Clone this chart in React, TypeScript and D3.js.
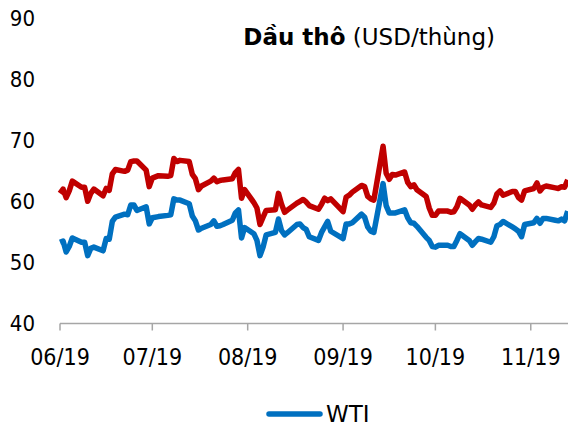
import { useEffect, useRef } from 'react';
import * as d3 from 'd3';

// trading days, June 3 – Nov 15 2019
const tradeDates = [
  '2019-06-03', '2019-06-04', '2019-06-05', '2019-06-06', '2019-06-07', '2019-06-10', '2019-06-11', '2019-06-12',
  '2019-06-13', '2019-06-14', '2019-06-17', '2019-06-18', '2019-06-19', '2019-06-20', '2019-06-21', '2019-06-24',
  '2019-06-25', '2019-06-26', '2019-06-27', '2019-06-28',
  '2019-07-01', '2019-07-02', '2019-07-03', '2019-07-05', '2019-07-08', '2019-07-09', '2019-07-10', '2019-07-11',
  '2019-07-12', '2019-07-15', '2019-07-16', '2019-07-17', '2019-07-18', '2019-07-19', '2019-07-22', '2019-07-23',
  '2019-07-24', '2019-07-25', '2019-07-26', '2019-07-29', '2019-07-30', '2019-07-31',
  '2019-08-01', '2019-08-02', '2019-08-05', '2019-08-06', '2019-08-07', '2019-08-08', '2019-08-09', '2019-08-12',
  '2019-08-13', '2019-08-14', '2019-08-15', '2019-08-16', '2019-08-19', '2019-08-20', '2019-08-21', '2019-08-22',
  '2019-08-23', '2019-08-26', '2019-08-27', '2019-08-28', '2019-08-29', '2019-08-30',
  '2019-09-03', '2019-09-04', '2019-09-05', '2019-09-06', '2019-09-09', '2019-09-10', '2019-09-11', '2019-09-12',
  '2019-09-13', '2019-09-16', '2019-09-17', '2019-09-18', '2019-09-19', '2019-09-20', '2019-09-23', '2019-09-24',
  '2019-09-25', '2019-09-26', '2019-09-27', '2019-09-30',
  '2019-10-01', '2019-10-02', '2019-10-03', '2019-10-04', '2019-10-07', '2019-10-08', '2019-10-09', '2019-10-10',
  '2019-10-11', '2019-10-14', '2019-10-15', '2019-10-16', '2019-10-17', '2019-10-18', '2019-10-21', '2019-10-22',
  '2019-10-23', '2019-10-24', '2019-10-25', '2019-10-28', '2019-10-29', '2019-10-30', '2019-10-31',
  '2019-11-01', '2019-11-04', '2019-11-05', '2019-11-06', '2019-11-07', '2019-11-08', '2019-11-11', '2019-11-12',
  '2019-11-13', '2019-11-14', '2019-11-15',
];

const brentPrices = [
  61.3, 62.0, 60.6, 61.7, 63.3, 62.3, 62.3, 60.0, 61.3, 62.0, 60.9, 62.1, 61.8, 64.5, 65.2, 64.9, 65.1, 66.5, 66.6, 66.6,
  65.1, 62.4, 63.8, 64.2, 64.1, 64.2, 67.0, 66.5, 66.7, 66.5, 64.4, 63.7, 61.9, 62.5, 63.3, 63.8, 63.2, 63.4, 63.5, 63.7, 64.7, 65.2,
  60.5, 61.9, 59.8, 58.9, 56.2, 57.4, 58.5, 58.6, 61.3, 59.5, 58.2, 58.6, 59.7, 60.0, 60.3, 59.9, 59.3, 58.7, 59.5, 60.5, 60.1, 60.4,
  58.3, 60.7, 61.0, 61.5, 62.6, 62.4, 60.8, 60.4, 60.2, 69.0, 64.6, 63.6, 64.4, 64.3, 64.8, 63.1, 62.4, 62.7, 61.9, 60.8,
  58.9, 57.7, 57.7, 58.4, 58.4, 58.2, 58.3, 59.1, 60.5, 59.4, 58.7, 59.4, 59.9, 59.4, 59.0, 59.7, 61.2, 61.7, 61.0, 61.6, 61.6, 60.6, 60.2,
  61.7, 62.1, 63.0, 61.7, 62.3, 62.5, 62.2, 62.1, 62.4, 62.3, 63.5,
];

const wtiPrices = [
  53.3, 53.5, 51.7, 52.6, 54.0, 53.3, 53.3, 51.1, 52.3, 52.5, 51.9, 53.9, 53.8, 56.7, 57.4, 57.9, 57.8, 59.4, 59.4, 58.5,
  59.1, 56.3, 57.3, 57.5, 57.7, 57.8, 60.4, 60.2, 60.2, 59.6, 57.6, 56.8, 55.3, 55.6, 56.2, 56.8, 55.9, 56.0, 56.2, 56.9, 58.1, 58.6,
  54.0, 55.7, 54.7, 53.6, 51.1, 52.5, 54.5, 54.9, 57.1, 55.2, 54.5, 54.9, 56.2, 56.3, 55.7, 55.4, 54.2, 53.6, 54.9, 55.8, 56.7, 55.1,
  53.9, 56.3, 56.3, 56.5, 57.9, 57.4, 55.8, 55.1, 54.9, 62.9, 59.3, 58.1, 58.1, 58.1, 58.6, 57.3, 56.5, 56.4, 55.9, 54.1,
  53.6, 52.6, 52.5, 52.8, 52.8, 52.6, 52.6, 53.6, 54.7, 53.6, 52.8, 53.4, 53.9, 53.8, 53.3, 54.2, 56.0, 56.2, 56.7, 55.8, 55.5, 55.1, 54.2,
  56.2, 56.5, 57.2, 56.4, 57.2, 57.2, 56.9, 56.8, 57.1, 56.8, 58.4,
];

const monthTicks = ['2019-06-01', '2019-07-01', '2019-08-01', '2019-09-01', '2019-10-01', '2019-11-01'];
const yTicks = [40, 50, 60, 70, 80, 90];

const FONT_NARROW = "'DejaVu Sans Condensed', 'DejaVu Sans', sans-serif";
const FONT = "'DejaVu Sans', sans-serif";
const RED = '#c00000';
const BLUE = '#0070c0';

export default function App() {
  const svgRef = useRef<SVGSVGElement>(null);

  useEffect(() => {
    if (!svgRef.current) return;
    const svg = d3.select(svgRef.current);
    svg.selectAll('*').remove();

    const parse = d3.timeParse('%Y-%m-%d');
    const dates = tradeDates.map((d) => parse(d) as Date);

    const x = d3.scaleTime()
      .domain([parse('2019-06-01') as Date, parse('2019-11-30') as Date])
      .range([60, 620]);
    // the series is drawn from the axis origin (first trading day sits on the 06/19 tick)
    const xLine = d3.scaleTime()
      .domain([dates[0], d3.timeDay.offset(dates[0], 182)])
      .range([60, 620]);
    const y = d3.scaleLinear().domain([40, 90]).range([323.5, 18]);

    const g = svg.append('g');

    // y labels, no axis line
    g.selectAll('text.ylab')
      .data(yTicks)
      .enter()
      .append('text')
      .attr('class', 'ylab')
      .attr('x', 35)
      .attr('y', (d) => y(d))
      .attr('dy', '0.36em')
      .attr('text-anchor', 'end')
      .style('font-family', FONT_NARROW)
      .style('font-stretch', 'condensed')
      .attr('font-size', 22)
      .attr('fill', '#000')
      .text((d) => d);

    // x axis
    g.append('line')
      .attr('x1', x.range()[0])
      .attr('x2', x.range()[1])
      .attr('y1', y(40))
      .attr('y2', y(40))
      .attr('stroke', '#a6a6a6')
      .attr('stroke-width', 1.5);

    const fmt = d3.timeFormat('%m/%y');
    const ticks = monthTicks.map((d) => parse(d) as Date);

    g.selectAll('line.tick')
      .data(ticks)
      .enter()
      .append('line')
      .attr('class', 'tick')
      .attr('x1', (d) => x(d))
      .attr('x2', (d) => x(d))
      .attr('y1', y(40))
      .attr('y2', y(40) + 7)
      .attr('stroke', '#a6a6a6')
      .attr('stroke-width', 1.5);

    g.selectAll('text.xlab')
      .data(ticks)
      .enter()
      .append('text')
      .attr('class', 'xlab')
      .attr('x', (d) => x(d))
      .attr('y', 365)
      .attr('text-anchor', 'middle')
      .style('font-family', FONT_NARROW)
      .style('font-stretch', 'condensed')
      .attr('font-size', 23)
      .attr('fill', '#000')
      .text((d) => fmt(d));

    const line = d3.line<number>()
      .x((_, i) => xLine(dates[i]))
      .y((d) => y(d));

    g.append('path')
      .datum(brentPrices)
      .attr('d', line)
      .attr('fill', 'none')
      .attr('stroke', RED)
      .attr('stroke-width', 5.5)
      .attr('stroke-linejoin', 'round');

    g.append('path')
      .datum(wtiPrices)
      .attr('d', line)
      .attr('fill', 'none')
      .attr('stroke', BLUE)
      .attr('stroke-width', 5.5)
      .attr('stroke-linejoin', 'round');

    // title
    const title = g.append('text')
      .attr('x', 495)
      .attr('y', 45)
      .attr('text-anchor', 'end')
      .style('font-family', FONT)
      .attr('font-size', 23)
      .attr('fill', '#000');
    title.append('tspan').attr('font-weight', 'bold').text('Dầu thô');
    title.append('tspan').text(' (USD/thùng)');

    // legend
    g.append('line')
      .attr('x1', 269)
      .attr('x2', 320)
      .attr('y1', 414)
      .attr('y2', 414)
      .attr('stroke', BLUE)
      .attr('stroke-width', 5.5)
      .attr('stroke-linecap', 'round');
    g.append('text')
      .attr('x', 326)
      .attr('y', 422)
      .style('font-family', FONT)
      .attr('font-size', 23)
      .attr('fill', '#000')
      .text('WTI');
  }, []);

  return (
    <svg
      ref={svgRef}
      width={568}
      height={430}
      style={{ position: 'absolute', left: 0, top: 0, background: '#fff' }}
    />
  );
}
